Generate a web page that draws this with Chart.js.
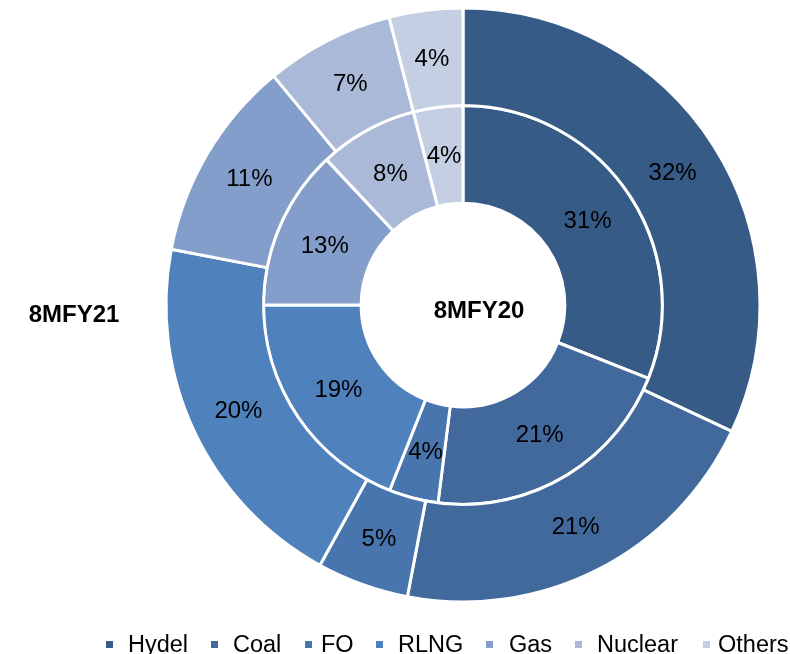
<!DOCTYPE html>
<html lang="en">
  <head>
    <meta charset="utf-8" />
    <title>Generation mix 8MFY20 vs 8MFY21</title>
    <style>
      * {
        margin: 0;
        padding: 0;
      }
      body {
        background: white;
      }
      .chartBox {
        width: 790px;
        height: 654px;
      }
    </style>
  </head>
  <body>
    <div class="chartBox">
      <canvas id="myChart" width="790" height="654"></canvas>
    </div>
    <script src="https://cdn.jsdelivr.net/npm/chart.js"></script>
    <script>
      // data
      const categories = ['Hydel', 'Coal', 'FO', 'RLNG', 'Gas', 'Nuclear', 'Others'];
      const fy21 = [32, 21, 5, 20, 11, 7, 4]; // outer ring
      const fy20 = [31, 21, 4, 19, 13, 8, 4]; // inner ring
      const colors = ['#375b87', '#41699c', '#4875ae', '#4f81bd', '#839eca', '#a9b9d7', '#c4cfe3'];

      const FONT = '"Liberation Sans", Arial, sans-serif';

      // percent labels on each arc
      const arcLabels = {
        id: 'arcLabels',
        afterDatasetsDraw(chart) {
          const { ctx } = chart;
          ctx.save();
          ctx.font = '24px ' + FONT;
          ctx.fillStyle = '#000';
          ctx.textAlign = 'center';
          ctx.textBaseline = 'middle';
          chart.data.datasets.forEach((ds, i) => {
            chart.getDatasetMeta(i).data.forEach((arc, j) => {
              const { x, y } = arc.tooltipPosition();
              ctx.fillText(ds.data[j] + '%', x, y + 1);
            });
          });

          // series names
          ctx.font = 'bold 24px ' + FONT;
          ctx.fillText('8MFY20', 479, 311);
          ctx.fillText('8MFY21', 74, 315);
          ctx.restore();
        },
      };

      // legend along the bottom edge (marker and text x positions)
      const legendX = [106, 211, 305, 376, 486, 575, 703];
      const legendTextX = [128, 233, 321, 398, 509, 597, 718];
      const bottomLegend = {
        id: 'bottomLegend',
        afterDraw(chart) {
          const { ctx } = chart;
          ctx.save();
          ctx.font = '23.5px ' + FONT;
          ctx.textBaseline = 'alphabetic';
          ctx.textAlign = 'left';
          categories.forEach((name, i) => {
            ctx.fillStyle = colors[i];
            ctx.fillRect(legendX[i], 641, 7, 7);
            ctx.fillStyle = '#000';
            ctx.fillText(name, legendTextX[i], 652);
          });
          ctx.restore();
        },
      };

      const config = {
        type: 'doughnut',
        data: {
          labels: categories,
          datasets: [
            {
              label: '8MFY21',
              data: fy21,
              backgroundColor: colors,
              borderColor: '#ffffff',
              borderWidth: 3,
            },
            {
              label: '8MFY20',
              data: fy20,
              backgroundColor: colors,
              borderColor: '#ffffff',
              borderWidth: 3,
            },
          ],
        },
        options: {
          responsive: false,
          animation: false,
          events: [],
          cutout: '34.3%',
          layout: {
            padding: { left: 164.5, right: 28.5, top: 6.5, bottom: 50.5 },
          },
          plugins: {
            legend: { display: false },
            tooltip: { enabled: false },
          },
        },
        plugins: [arcLabels, bottomLegend],
      };

      const myChart = new Chart(document.getElementById('myChart'), config);
    </script>
  </body>
</html>
